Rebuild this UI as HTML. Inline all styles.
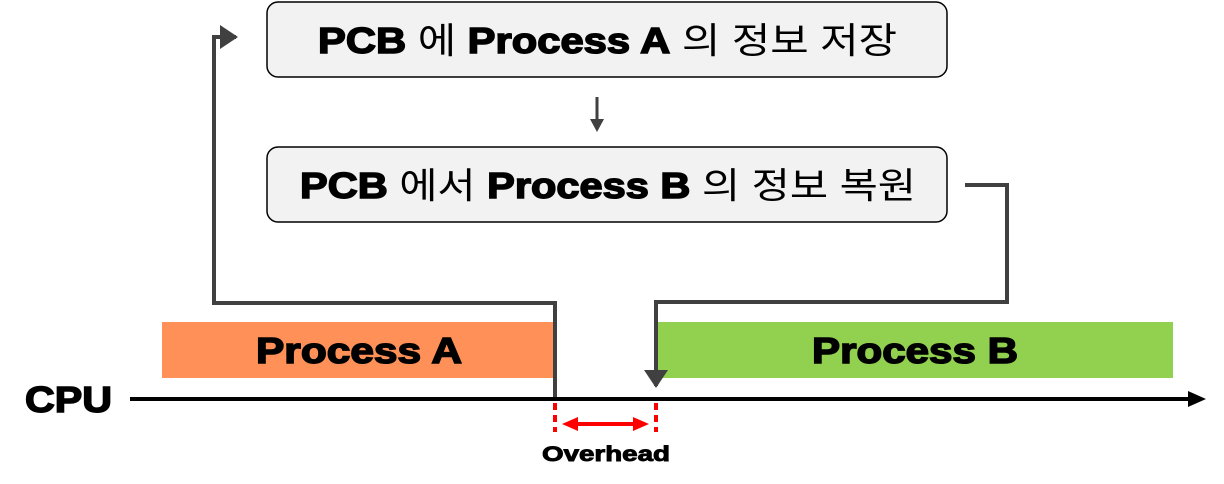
<!DOCTYPE html>
<html><head><meta charset="utf-8"><style>
body{margin:0;width:1224px;height:484px;background:#fff;overflow:hidden}
</style></head><body>
<svg width="1224" height="484" xmlns="http://www.w3.org/2000/svg" style="position:absolute;left:0;top:0">
<defs>
<marker id="ag" markerWidth="8" markerHeight="8" refX="4" refY="3" orient="auto" markerUnits="strokeWidth"><path d="M0,0 L4.5,3 L0,6z" fill="#404040"/></marker>
</defs>
<rect x="267" y="2" width="680" height="75" rx="11" fill="#f2f2f2" stroke="#000" stroke-width="1.5"/>
<rect x="267" y="147" width="680" height="75" rx="11" fill="#f2f2f2" stroke="#000" stroke-width="1.5"/>
<g font-family="'Liberation Sans','Noto Sans CJK KR',sans-serif" font-size="36" fill="#000">
<text x="318" y="53" textLength="579" lengthAdjust="spacingAndGlyphs"><tspan font-weight="900" stroke="#000" stroke-width="1.5">PCB</tspan> 에 <tspan font-weight="900" stroke="#000" stroke-width="1.5">Process A</tspan> 의 정보 저장</text>
<text x="300" y="198" textLength="616" lengthAdjust="spacingAndGlyphs"><tspan font-weight="900" stroke="#000" stroke-width="1.5">PCB</tspan> 에서 <tspan font-weight="900" stroke="#000" stroke-width="1.5">Process B</tspan> 의 정보 복원</text>
</g>
<line x1="597" y1="97" x2="597" y2="122" stroke="#404040" stroke-width="3"/>
<path d="M590,119 L604,119 L597,132z" fill="#404040"/>
<rect x="162" y="322" width="391" height="56" fill="#FF9057"/>
<rect x="657" y="322" width="516" height="56" fill="#92D050"/>
<g font-family="'Liberation Sans',sans-serif" font-weight="900" fill="#000" stroke="#000" stroke-width="1.5">
<text x="256" y="363" font-size="36" textLength="206" lengthAdjust="spacingAndGlyphs">Process A</text>
<text x="812" y="363" font-size="36" textLength="206" lengthAdjust="spacingAndGlyphs">Process B</text>
<text x="25" y="412" font-size="36" textLength="87" lengthAdjust="spacingAndGlyphs">CPU</text>
<text x="542" y="461" font-size="21" stroke-width="0.9" textLength="128" lengthAdjust="spacingAndGlyphs">Overhead</text>
</g>
<polyline points="555,398 555,303 214,303 214,37 236,37" fill="none" stroke="#404040" stroke-width="4" marker-end="url(#ag)"/>
<polyline points="965,185 1007,185 1007,302 656,302 656,386" fill="none" stroke="#404040" stroke-width="4" marker-end="url(#ag)"/>
<line x1="130" y1="399" x2="1195" y2="399" stroke="#000" stroke-width="4"/>
<path d="M1206,399 L1188,391 L1188,407z" fill="#000"/>
<line x1="555" y1="403" x2="555" y2="432" stroke="#f00" stroke-width="4" stroke-dasharray="7,5"/>
<line x1="656" y1="403" x2="656" y2="432" stroke="#f00" stroke-width="4" stroke-dasharray="7,5"/>
<line x1="575" y1="424" x2="636" y2="424" stroke="#f00" stroke-width="4"/>
<path d="M562,424 L578,417 L578,431z M649,424 L633,417 L633,431z" fill="#f00"/>
</svg>
</body></html>
